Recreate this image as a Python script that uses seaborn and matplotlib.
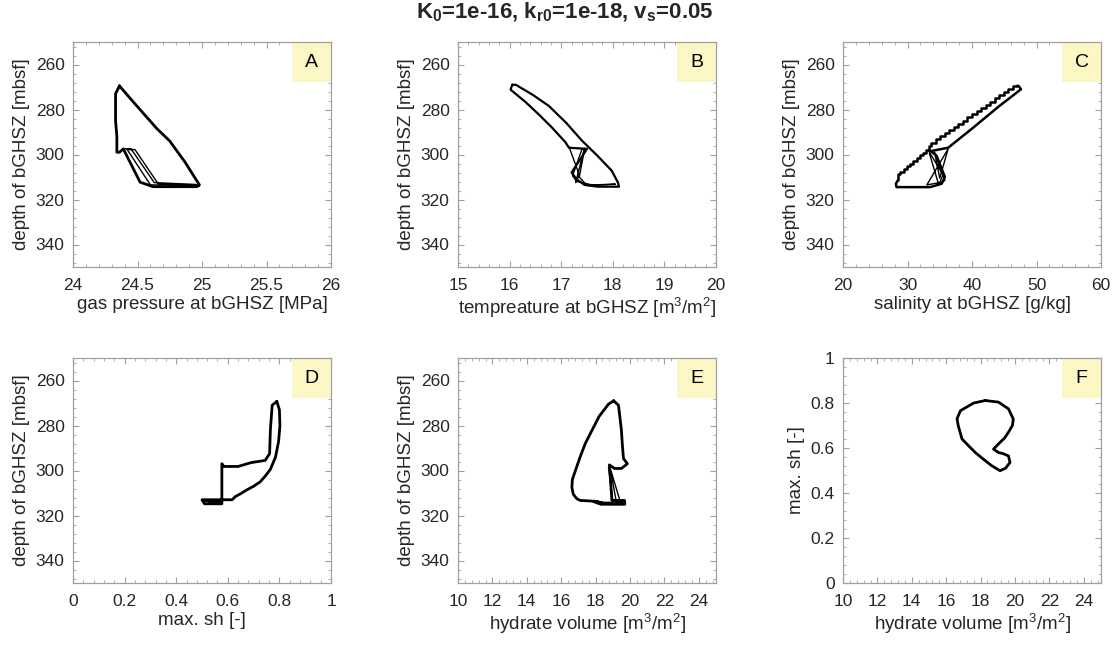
import numpy as np
import matplotlib
matplotlib.use('Agg')
import matplotlib.pyplot as plt
from matplotlib.ticker import MultipleLocator, AutoMinorLocator, FuncFormatter
from matplotlib.patches import Rectangle
import seaborn as sns

# A: gas pressure vs depth
A_p = [24.36, 24.45, 24.55, 24.65, 24.75, 24.80, 24.87, 24.93, 24.98, 24.96, 24.85, 24.70,
       24.62, 24.52, 24.39, 24.36, 24.34, 24.34, 24.33, 24.33, 24.36]
A_d = [269.5, 275.5, 282.0, 288.5, 294.0, 298.0, 303.5, 309.0, 313.5, 314.3, 314.3, 314.3,
       314.3, 312.3, 297.5, 299.0, 299.0, 292.0, 285.0, 273.0, 269.5]
A_p2 = [24.39, 24.45, 24.63, 24.95, 24.98, 24.66, 24.48, 24.42, 24.60, 24.90]
A_d2 = [297.5, 297.5, 312.5, 313.3, 314.0, 313.0, 297.8, 297.8, 313.5, 313.8]

# B: temperature vs depth
B_t = [16.05, 16.12, 16.45, 16.76, 17.10, 17.40, 17.70, 17.98, 18.10, 18.12, 17.70, 17.45,
       17.30, 17.20, 17.50, 17.15, 17.08, 16.82, 16.57, 16.30, 16.02, 16.05]
B_d = [269.0, 269.0, 273.5, 278.4, 286.0, 293.8, 300.5, 307.2, 312.5, 314.3, 314.3, 313.5,
       311.0, 308.0, 297.5, 297.0, 294.5, 288.0, 282.3, 276.5, 271.2, 269.0]
B_t2 = [17.15, 17.35, 17.28, 17.45, 17.40, 17.22, 17.30, 17.60, 18.05, 17.50, 17.35, 17.45]
B_d2 = [296.5, 309.0, 312.5, 297.2, 297.8, 309.5, 312.0, 313.5, 313.2, 313.8, 310.0, 298.0]

# C: salinity vs depth (stepped upper edge + rest of loop)
C_up_s = [47.0, 46.3, 45.6, 44.9, 44.2, 43.5, 42.8, 42.1, 41.4, 40.7, 40.0, 39.3, 38.6, 37.9,
          37.2, 36.5, 35.8, 35.1, 34.4, 33.7, 33.3]
C_up_d = [269.5, 270.9, 272.3, 273.7, 275.1, 276.5, 277.9, 279.3, 280.7, 282.1, 283.5, 284.9,
          286.3, 287.7, 289.1, 290.5, 291.9, 293.3, 294.7, 296.1, 298.0]
C_lo_s = [33.3, 32.9, 32.4, 31.9, 31.4, 30.9, 30.4, 29.9, 29.4, 28.9, 28.5]
C_lo_d = [298.0, 299.2, 300.4, 301.6, 302.8, 304.0, 305.2, 306.4, 307.6, 308.8, 311.5]
C_s = [28.5, 28.2, 28.3, 33.5, 35.3, 35.8, 34.5, 33.6, 36.3, 40.0, 44.0, 47.6, 47.2, 47.0]
C_d = [311.5, 313.0, 314.5, 314.5, 313.0, 310.0, 300.5, 298.5, 297.0, 288.5, 279.0, 271.0,
       269.5, 269.5]
C_s2 = [33.3, 35.5, 35.0, 33.0, 36.3, 35.0, 34.2, 35.8, 34.8, 33.4]
C_d2 = [298.5, 309.0, 312.5, 313.5, 297.5, 310.5, 299.0, 311.5, 313.0, 299.5]

# D: max. sh vs depth
D_sh = [0.790, 0.800, 0.802, 0.797, 0.785, 0.765, 0.745, 0.726, 0.700, 0.674, 0.650, 0.629,
        0.617, 0.580, 0.500, 0.510, 0.577, 0.577, 0.585, 0.640, 0.690, 0.745, 0.762, 0.765,
        0.772, 0.790]
D_d = [269.3, 273.0, 280.0, 287.0, 294.0, 299.5, 302.5, 305.0, 307.0, 308.6, 310.3, 311.6,
       313.0, 313.0, 313.0, 314.8, 314.8, 297.0, 298.2, 298.2, 296.5, 295.5, 292.5, 282.0,
       271.0, 269.3]
D_sh2 = [0.505, 0.577, 0.52, 0.545, 0.535, 0.56, 0.55, 0.577]
D_d2 = [313.8, 313.8, 314.8, 313.2, 314.8, 313.2, 314.8, 313.2]

# E: hydrate volume vs depth
E_v = [19.05, 18.75, 18.20, 17.80, 17.40, 17.10, 16.85, 16.65, 16.62, 16.70, 16.90, 17.10,
       17.80, 18.30, 19.70, 19.68, 19.10, 18.95, 18.80, 19.10, 19.50, 19.85, 19.62, 19.55,
       19.50, 19.33, 19.05]
E_d = [269.0, 270.5, 276.0, 282.0, 288.0, 294.0, 299.5, 304.0, 307.5, 310.5, 312.5, 313.3,
       313.6, 315.0, 315.0, 313.3, 313.3, 313.3, 297.5, 299.1, 299.1, 297.0, 294.7, 288.0,
       282.0, 271.0, 269.0]
E_v2 = [18.75, 19.00, 19.40, 18.85, 19.20, 19.60, 18.30, 17.90, 18.60, 18.10]
E_d2 = [298.5, 313.5, 313.0, 299.0, 313.8, 314.0, 314.2, 313.3, 314.6, 313.5]

# F: hydrate volume vs max. sh
F_v = [18.27, 17.60, 16.83, 16.63, 16.70, 16.92, 17.30, 17.69, 18.20, 18.65, 19.13, 19.45,
       19.71, 19.62, 19.30, 19.04, 18.75, 19.04, 19.40, 19.62, 19.85, 19.90, 19.62, 19.04, 18.27]
F_sh = [0.811, 0.800, 0.766, 0.730, 0.699, 0.640, 0.610, 0.580, 0.548, 0.521, 0.499, 0.510,
        0.536, 0.565, 0.575, 0.580, 0.595, 0.618, 0.645, 0.670, 0.700, 0.729, 0.774, 0.804, 0.811]

sns.set_style('ticks')
plt.rcParams['font.family'] = ['Liberation Sans', 'DejaVu Sans']
plt.rcParams['mathtext.fontset'] = 'custom'
plt.rcParams['mathtext.rm'] = 'Liberation Sans'
plt.rcParams['mathtext.bf'] = 'Liberation Sans:bold'
plt.rcParams['mathtext.it'] = 'Liberation Sans:italic'
plt.rcParams['xtick.direction'] = 'in'
plt.rcParams['ytick.direction'] = 'in'

TXT = '#262626'
SPINE = '#a0a0a0'

fig = plt.figure(figsize=(11.18, 6.45), dpi=100)
W, H = 258 / 1118, 225 / 645
lefts = [73 / 1118, 458 / 1118, 843 / 1118]
bottoms = [1 - 267 / 645, 1 - 583 / 645]

fmt = FuncFormatter(lambda v, pos: '%g' % round(v, 6))


def line(ax, x, y, lw=1.8, **kw):
    sns.lineplot(x=x, y=y, ax=ax, sort=False, estimator=None, color='black',
                 lw=lw, **kw)


def style(ax, letter, xlim, xmaj, xlabel, ylim=(350, 250), ymaj=20, ylabel='depth of bGHSZ [mbsf]'):
    ax.set_xlim(*xlim)
    ax.set_ylim(*ylim)
    ax.xaxis.set_major_locator(MultipleLocator(xmaj))
    ax.yaxis.set_major_locator(MultipleLocator(ymaj))
    ax.xaxis.set_minor_locator(AutoMinorLocator(5))
    ax.yaxis.set_minor_locator(AutoMinorLocator(5))
    ax.xaxis.set_major_formatter(fmt)
    ax.yaxis.set_major_formatter(fmt)
    ax.tick_params(which='both', direction='in', top=True, right=True, color=SPINE,
                   labelcolor=TXT, labelsize=12.5)
    ax.tick_params(which='major', length=4, width=0.8)
    ax.tick_params(which='minor', length=2, width=0.6)
    ax.tick_params(axis='x', pad=8)
    ax.tick_params(axis='y', pad=6)
    for sp in ax.spines.values():
        sp.set_color(SPINE)
        sp.set_linewidth(0.9)
    ax.set_xlabel(xlabel, fontsize=13.5, color=TXT, labelpad=2)
    ax.set_ylabel(ylabel, fontsize=13.5, color=TXT, labelpad=4)
    ax.add_patch(Rectangle((0.849, 0.822), 0.151, 0.178, transform=ax.transAxes,
                           facecolor='#fdf7c6', edgecolor='none', zorder=1))
    ax.text(0.925, 0.911, letter, transform=ax.transAxes, ha='center', va='center',
            fontsize=14, color='black', zorder=2)


axA = fig.add_axes([lefts[0], bottoms[0], W, H])
line(axA, A_p, A_d, lw=2.0)
line(axA, A_p2, A_d2, lw=1.0)
style(axA, 'A', (24, 26), 0.5, 'gas pressure at bGHSZ [MPa]')

axB = fig.add_axes([lefts[1], bottoms[0], W, H])
line(axB, B_t, B_d, lw=1.6)
line(axB, B_t2, B_d2, lw=1.0)
style(axB, 'B', (15, 20), 1, 'tempreature at bGHSZ [m$^3$/m$^2$]')

axC = fig.add_axes([lefts[2], bottoms[0], W, H])
line(axC, C_up_s, C_up_d, lw=1.8, drawstyle='steps-post')
line(axC, C_lo_s, C_lo_d, lw=1.8, drawstyle='steps-post')
line(axC, C_s, C_d, lw=1.8)
line(axC, C_s2, C_d2, lw=1.0)
style(axC, 'C', (20, 60), 10, 'salinity at bGHSZ [g/kg]')

axD = fig.add_axes([lefts[0], bottoms[1], W, H])
line(axD, D_sh, D_d, lw=2.0)
line(axD, D_sh2, D_d2, lw=1.0)
style(axD, 'D', (0, 1), 0.2, 'max. sh [-]')

axE = fig.add_axes([lefts[1], bottoms[1], W, H])
line(axE, E_v, E_d, lw=2.0)
line(axE, E_v2, E_d2, lw=1.0)
style(axE, 'E', (10, 25), 2, 'hydrate volume [m$^3$/m$^2$]')

axF = fig.add_axes([lefts[2], bottoms[1], W, H])
line(axF, F_v, F_sh, lw=2.0)
style(axF, 'F', (10, 25), 2, 'hydrate volume [m$^3$/m$^2$]', ylim=(0, 1), ymaj=0.2,
      ylabel='max. sh [-]')

fig.text(0.505, 0.981, r'K$_\mathbf{0}$=1e-16, k$_\mathbf{r0}$=1e-18, v$_\mathbf{s}$=0.05',
         ha='center', va='center', fontsize=16, fontweight='bold', color=TXT)

fig.savefig('out.png', dpi=100)
